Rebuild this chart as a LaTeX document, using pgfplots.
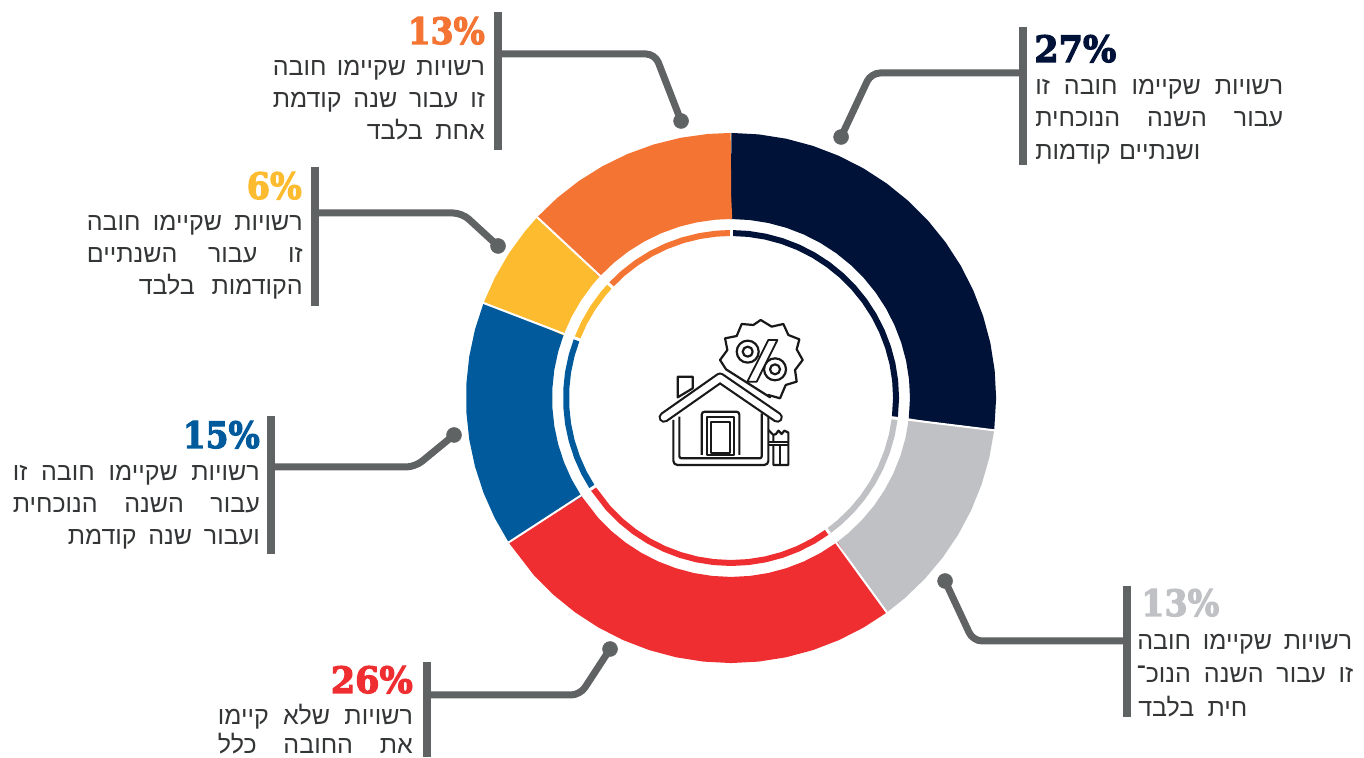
\documentclass[border=0pt]{standalone}
\usepackage{graphicx}
\usepackage{fontspec}
\usepackage{pgfplots}
\pgfplotsset{compat=1.18}
\TeXXeTstate=1
\setmainfont{Liberation Sans}
\newfontfamily\hebfont[Script=Hebrew]{Liberation Sans}
\newfontfamily\pctfont[BoldFont={DejaVu Serif Bold},BoldFeatures={FakeBold=3.2}]{DejaVu Serif}
\definecolor{cnavy}{HTML}{001238}
\definecolor{cgrey}{HTML}{BFC1C4}
\definecolor{cred}{HTML}{EF2E31}
\definecolor{cblue}{HTML}{005A9C}
\definecolor{cyellow}{HTML}{FDBB30}
\definecolor{corange}{HTML}{F47433}
\definecolor{cline}{HTML}{5F6363}
\definecolor{ctext}{HTML}{333536}
\newcommand{\jl}[5]{\node[anchor=base #1,inner sep=0pt,text=ctext] at (axis cs:#2,#3) {\fontsize{25}{25}\hebfont\hbox to #4pt{#5}};}
\newcommand{\pc}[6]{\node[anchor=base #1,inner sep=0pt,text=#6] at (axis cs:#2,#3) {\resizebox{#4pt}{27pt}{\pctfont\bfseries #5\%}};}
\begin{document}
\begin{tikzpicture}
\begin{axis}[
  scale only axis, width=1364pt, height=757pt,
  xmin=-731, xmax=633, ymin=-359, ymax=398,
  hide axis, no markers,
]
% outer donut: share boundaries in degrees, radius 222 (band 179--265)
\addplot[data cs=polar, cnavy, line width=86pt] coordinates {(90,222)(89.8,222)(84,222)(78,222)(72,222)(66,222)(60,222)(54,222)(48,222)(42,222)(36,222)(30,222)(24,222)(18,222)(12,222)(6,222)(0,222)(-6.8,222)(-7,222)};
\addplot[data cs=polar, cgrey, line width=86pt] coordinates {(-7,222)(-7.2,222)(-13,222)(-19,222)(-25,222)(-31,222)(-37,222)(-43,222)(-49,222)(-53.8,222)(-54,222)};
\addplot[data cs=polar, cred, line width=86pt] coordinates {(-54,222)(-54.2,222)(-60,222)(-66,222)(-72,222)(-78,222)(-84,222)(-90,222)(-96,222)(-102,222)(-108,222)(-114,222)(-120,222)(-126,222)(-132,222)(-138,222)(-146.8,222)(-147,222)};
\addplot[data cs=polar, cblue, line width=86pt] coordinates {(213,222)(212.8,222)(207,222)(201,222)(195,222)(189,222)(183,222)(177,222)(171,222)(165,222)(159.2,222)(159,222)};
\addplot[data cs=polar, cyellow, line width=86pt] coordinates {(159,222)(158.8,222)(153,222)(147,222)(141,222)(137.2,222)(137,222)};
\addplot[data cs=polar, corange, line width=86pt] coordinates {(137,222)(136.8,222)(131,222)(125,222)(119,222)(113,222)(107,222)(101,222)(95,222)(90.2,222)(90,222)};
% inner ring
\addplot[data cs=polar, cnavy, line width=6pt] coordinates {(90,165)(84,165)(78,165)(72,165)(66,165)(60,165)(54,165)(48,165)(42,165)(36,165)(30,165)(24,165)(18,165)(12,165)(6,165)(0,165)(-7,165)};
\addplot[data cs=polar, cgrey, line width=6pt] coordinates {(-7,165)(-13,165)(-19,165)(-25,165)(-31,165)(-37,165)(-43,165)(-49,165)(-54,165)};
\addplot[data cs=polar, cred, line width=6pt] coordinates {(-54,165)(-60,165)(-66,165)(-72,165)(-78,165)(-84,165)(-90,165)(-96,165)(-102,165)(-108,165)(-114,165)(-120,165)(-126,165)(-132,165)(-138,165)(-147,165)};
\addplot[data cs=polar, cblue, line width=6pt] coordinates {(213,165)(207,165)(201,165)(195,165)(189,165)(183,165)(177,165)(171,165)(165,165)(159,165)};
\addplot[data cs=polar, cyellow, line width=6pt] coordinates {(159,165)(153,165)(147,165)(141,165)(137,165)};
\addplot[data cs=polar, corange, line width=6pt] coordinates {(137,165)(131,165)(125,165)(119,165)(113,165)(107,165)(101,165)(95,165)(90,165)};
% separators
\addplot[data cs=polar, white, line width=2pt] coordinates {(-7,175)(-7,270)};
\addplot[data cs=polar, white, line width=2pt] coordinates {(-54,175)(-54,270)};
\addplot[data cs=polar, white, line width=2pt] coordinates {(-147,175)(-147,270)};
\addplot[data cs=polar, white, line width=2pt] coordinates {(159,175)(159,270)};
\addplot[data cs=polar, white, line width=2pt] coordinates {(137,175)(137,270)};
\addplot[data cs=polar, white, line width=3pt] coordinates {(90,158)(90,172)};
\addplot[data cs=polar, white, line width=3pt] coordinates {(-7,158)(-7,172)};
\addplot[data cs=polar, white, line width=3pt] coordinates {(-54,158)(-54,172)};
\addplot[data cs=polar, white, line width=3pt] coordinates {(-147,158)(-147,172)};
\addplot[data cs=polar, white, line width=3pt] coordinates {(159,158)(159,172)};
\addplot[data cs=polar, white, line width=3pt] coordinates {(137,158)(137,172)};
% leaders
\addplot[cline, line width=7pt, rounded corners=9pt] coordinates {(110,261)(140,325)(292,325)};
\addplot[cline, line width=8pt] coordinates {(292,371)(292,233)};
\addplot[cline, line width=7pt, rounded corners=9pt] coordinates {(214,-183)(242,-243)(397,-243)};
\addplot[cline, line width=8pt] coordinates {(396,-188)(396,-319)};
\addplot[cline, line width=7pt, rounded corners=9pt] coordinates {(-50,277)(-76,344)(-233,344)};
\addplot[cline, line width=8pt] coordinates {(-233,386)(-233,248)};
\addplot[cline, line width=7pt, rounded corners=9pt] coordinates {(-233,152)(-269,185)(-416,185)};
\addplot[cline, line width=8pt] coordinates {(-416,231)(-416,92)};
\addplot[cline, line width=7pt, rounded corners=9pt] coordinates {(-277,-37)(-316,-69)(-460,-69)};
\addplot[cline, line width=8pt] coordinates {(-460,-18)(-460,-156)};
\addplot[cline, line width=7pt, rounded corners=9pt] coordinates {(-121,-251)(-151,-297)(-304,-297)};
\addplot[cline, line width=8pt] coordinates {(-304,-264)(-304,-359)};
\addplot[cline, only marks, mark=*, mark size=7.5pt, mark options={fill=cline,draw=cline,line width=0.5pt}] coordinates {(110,261)(214,-183)(-50,277)(-233,152)(-277,-37)(-121,-251)};
% labels
\pc{west}{303}{336}{82}{27}{cnavy}
\jl{west}{304}{303}{248}{\beginR רשויות\hfill שקיימו\hfill חובה\hfill זו\endR}
\jl{west}{304}{271}{248}{\beginR עבור\hfill השנה\hfill הנוכחית\endR}
\jl{west}{304}{238}{165}{\beginR ושנתיים\hfill קודמות\endR}
\pc{west}{410}{-218}{78}{13}{cgrey}
\jl{west}{406}{-252}{215}{\beginR רשויות\hfill שקיימו\hfill חובה\endR}
\jl{west}{405}{-285}{217}{\beginR זו\hfill עבור\hfill השנה\hfill הנוכ־\endR}
\jl{west}{407}{-318}{109}{\beginR חית\hfill בלבד\endR}
\pc{east}{-246}{354}{77}{13}{corange}
\jl{east}{-246}{322}{212}{\beginR רשויות\hfill שקיימו\hfill חובה\endR}
\jl{east}{-246}{290}{212}{\beginR זו\hfill עבור\hfill שנה\hfill קודמת\endR}
\jl{east}{-246}{258}{118}{\beginR אחת\hfill בלבד\endR}
\pc{east}{-429}{199}{55}{6}{cyellow}
\jl{east}{-428}{167}{216}{\beginR רשויות\hfill שקיימו\hfill חובה\endR}
\jl{east}{-428}{135}{216}{\beginR זו\hfill עבור\hfill השנתיים\endR}
\jl{east}{-428}{103}{164}{\beginR הקודמות\hfill בלבד\endR}
\pc{east}{-471}{-50}{77}{15}{cblue}
\jl{east}{-471}{-83}{247}{\beginR רשויות\hfill שקיימו\hfill חובה\hfill זו\endR}
\jl{east}{-471}{-115}{247}{\beginR עבור\hfill השנה\hfill הנוכחית\endR}
\jl{east}{-471}{-147}{192}{\beginR ועבור\hfill שנה\hfill קודמת\endR}
\pc{east}{-318}{-295}{82}{26}{cred}
\jl{east}{-318}{-326}{195}{\beginR רשויות\hfill שלא\hfill קיימו\endR}
\jl{east}{-318}{-355}{195}{\beginR את\hfill החובה\hfill כלל\endR}
% icon (units: 1/3 px from crop origin)
\begin{scope}[shift={(axis cs:-91,88)},x=0.3333pt,y=-0.3333pt,line join=round]
  \draw[black!90,line width=2.2pt,fill=white] (362,30)--(395,50)--(430,42)--(445,75)--(478,88)--(470,118)--(488,150)--(465,180)--(470,215)--(437,225)--(420,265)--(385,255)--(390,262)--(258,178)--(240,150)--(262,120)--(255,85)--(290,78)--(305,42)--(340,45)--cycle;
  \draw[black!90,line width=2.2pt] (323,125) circle[radius=11pt] (323,125) circle[radius=5pt];
  \draw[black!90,line width=2.2pt] (405,178) circle[radius=11pt] (405,178) circle[radius=5pt];
  \draw[black!90,line width=1.8pt,fill=white] (385,90)--(412,90)--(350,215)--(322,215)--cycle;
  % chimney
  \draw[black!90,line width=2.2pt,fill=white] (113,262)--(113,200)--(158,200)--(158,235)--cycle;
  % walls
  \draw[black!90,line width=2.2pt,fill=white,rounded corners=4pt] (100,330)--(100,465)--(385,465)--(385,320);
  \draw[black!90,line width=2.2pt,rounded corners=2pt] (118,320)--(118,445)--(365,445)--(365,310);
  % roof
  \draw[black!90,line width=11pt,line cap=round] (72,322)--(240,204)--(412,322);
  \draw[white,line width=6.6pt,line cap=round] (72,322)--(240,204)--(412,322);
  % door
  \draw[black!90,line width=2.2pt,rounded corners=3pt] (185,435)--(185,305)--(298,305)--(298,435);
  \draw[black!90,line width=2.2pt] (200,435)--(200,322)--(283,322)--(283,435)--cycle;
  \draw[black!90,line width=2.2pt] (213,430)--(213,335)--(270,335)--(270,430)--cycle;
  % fence
  \draw[black!90,line width=2.2pt] (385,360)--(400,375)--(400,395) (400,405)--(400,465)--(445,465)--(445,368)--(433,362)--(425,372)--(415,362)--(408,372)--(400,375);
  \draw[black!90,line width=1.8pt] (385,395)--(445,395) (385,405)--(445,405) (420,405)--(420,465);
\end{scope}
\end{axis}
\pgfresetboundingbox
\path (0,0) rectangle (1364pt,757pt);
\end{tikzpicture}
\end{document}
